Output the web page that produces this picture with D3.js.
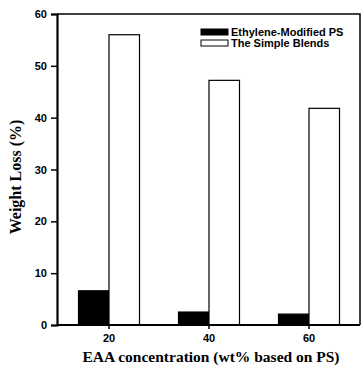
<!DOCTYPE html>
<html>
<head>
<meta charset="utf-8">
<script src="https://cdn.jsdelivr.net/npm/d3@7"></script>
<style>
  body { margin: 0; background: #fff; }
  svg { display: block; }
</style>
</head>
<body>
<div id="chart"></div>
<script>
// weight loss bar chart

const categories = ["20", "40", "60"]
const seriesNames = ["Ethylene-Modified PS", "The Simple Blends"]
const modifiedPS = [6.6, 2.5, 2.1]
const simpleBlends = [56, 47.2, 41.8]
const yTicks = [0, 10, 20, 30, 40, 50, 60]

const width = 362, height = 368
const mLeft = 57, mRight = 360, mTop = 14, mBottom = 325

const svg = d3.select("#chart").append("svg")
    .attr("width", width)
    .attr("height", height)

const x = d3.scaleBand()
    .domain(categories)
    .range([59, 359])
    .paddingInner(0.39)
    .paddingOuter(0.195)

const xs = d3.scaleBand()
    .domain(seriesNames)
    .range([0, x.bandwidth()])

const y = d3.scaleLinear()
    .domain([0, 60])
    .range([mBottom, mTop])

const rows = categories.map((c, i) => ({cat: c, vals: [modifiedPS[i], simpleBlends[i]]}))

const groups = svg.selectAll("g.grp")
    .data(rows)
    .join("g")
    .attr("class", "grp")
    .attr("transform", d => "translate(" + x(d.cat) + ",0)")

groups.selectAll("rect")
    .data(d => d.vals.map((v, k) => ({name: seriesNames[k], v: v})))
    .join("rect")
    .attr("x", d => xs(d.name))
    .attr("y", d => y(d.v))
    .attr("width", xs.bandwidth())
    .attr("height", d => mBottom - y(d.v))
    .attr("fill", d => d.name == seriesNames[0] ? "#000" : "#fff")
    .attr("stroke", "#000")
    .attr("stroke-width", 1.2)

// frame
svg.append("path")
    .attr("d", "M" + mLeft + " " + mTop + " H" + mRight + " V" + mBottom)
    .attr("fill", "none")
    .attr("stroke", "#000")
    .attr("stroke-width", 1.5)

const yAxis = svg.append("g")
    .attr("transform", "translate(" + mLeft + ",0)")
    .call(d3.axisLeft(y).tickValues(yTicks).tickSize(6).tickPadding(4))
yAxis.select(".domain").attr("stroke-width", 2.2)
yAxis.selectAll("line").attr("stroke-width", 1.5)
yAxis.selectAll("text")
    .style("font-family", "Liberation Sans, Arial, sans-serif")
    .style("font-weight", "bold")
    .style("font-size", "11px")
    .attr("fill", "#000")

const xAxis = svg.append("g")
    .attr("transform", "translate(0," + mBottom + ")")
    .call(d3.axisBottom(x).tickSize(4).tickPadding(5).tickSizeOuter(0))
xAxis.select(".domain")
    .attr("d", "M" + mLeft + ",0H" + mRight)
    .attr("stroke-width", 2.2)
xAxis.selectAll("line").attr("stroke-width", 1.5)
xAxis.selectAll("text")
    .style("font-family", "Liberation Sans, Arial, sans-serif")
    .style("font-weight", "bold")
    .style("font-size", "11px")
    .attr("fill", "#000")

// legend
const legend = svg.append("g").attr("transform", "translate(201,29)")
seriesNames.forEach((n, i) => {
    legend.append("rect")
        .attr("x", 0)
        .attr("y", i * 11)
        .attr("width", 27)
        .attr("height", 6)
        .attr("fill", i == 0 ? "#000" : "#fff")
        .attr("stroke", "#000")
        .attr("stroke-width", 1)
    legend.append("text")
        .attr("x", 30)
        .attr("y", i * 11 + 7)
        .text(n)
        .style("font-family", "Liberation Sans, Arial, sans-serif")
        .style("font-weight", "bold")
        .style("font-size", "11px")
})

svg.append("text")
    .attr("x", 211)
    .attr("y", 362)
    .attr("text-anchor", "middle")
    .text("EAA concentration (wt% based on PS)")
    .style("font-family", "Liberation Serif, Times New Roman, serif")
    .style("font-weight", "bold")
    .style("font-size", "15.5px")

svg.append("text")
    .attr("transform", "translate(21,177) rotate(-90)")
    .attr("text-anchor", "middle")
    .text("Weight Loss (%)")
    .style("font-family", "Liberation Serif, Times New Roman, serif")
    .style("font-weight", "bold")
    .style("font-size", "16px")
</script>
</body>
</html>
